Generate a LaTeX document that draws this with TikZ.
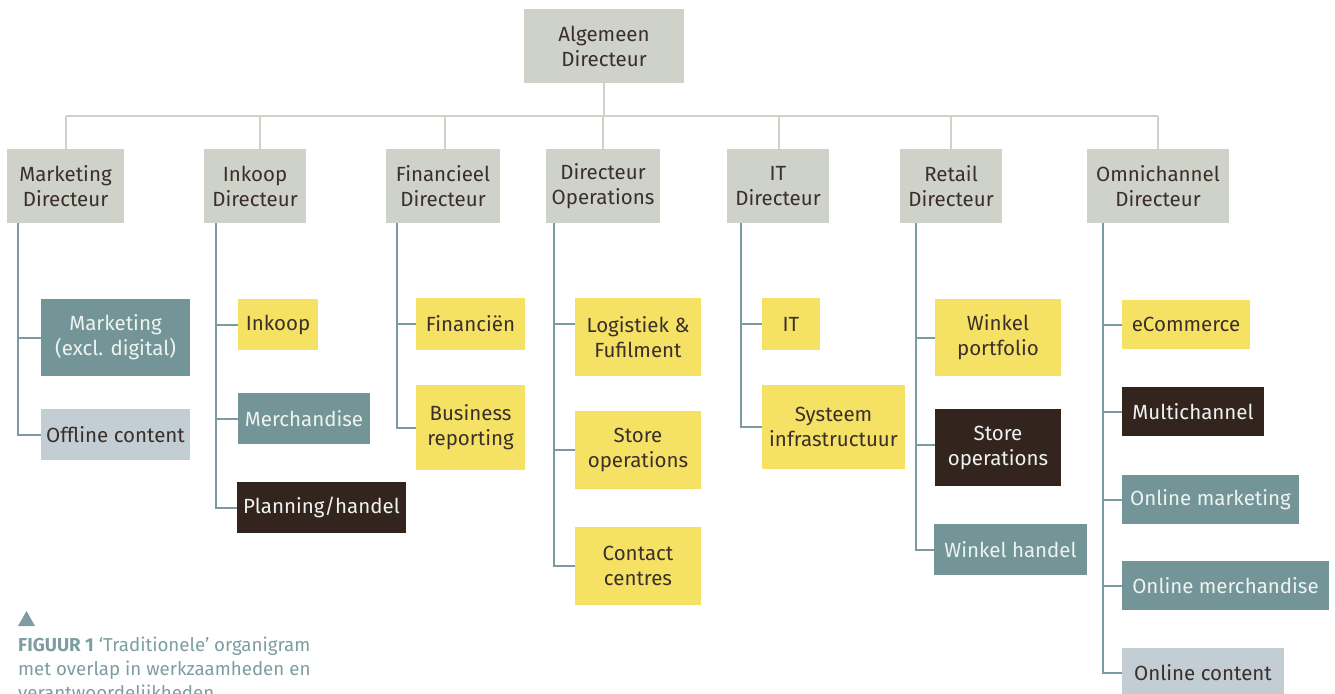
\documentclass[tikz,border=0pt]{standalone}
\usepackage{fontspec}
\setmainfont{Fira Sans}
\definecolor{dirgray}{HTML}{CED2C9}
\definecolor{branchc}{HTML}{7B9BA0}
\definecolor{tealbox}{HTML}{739598}
\definecolor{paleblue}{HTML}{C3CDD4}
\definecolor{yellowbox}{HTML}{F5E265}
\definecolor{darkbox}{HTML}{33251D}
\definecolor{inkdark}{HTML}{3A2F2A}
\definecolor{inklight}{HTML}{EEF2F1}
\definecolor{captionc}{HTML}{7D9DA2}
\begin{document}
\begin{tikzpicture}[x=1pt,y=-1pt,
  orgbox/.style={inner sep=0pt, align=center, font=\fontsize{20.5}{25}\selectfont},
  dirbox/.style={orgbox, fill=dirgray, text=inkdark},
  ybox/.style={orgbox, fill=yellowbox, text=inkdark},
  tbox/.style={orgbox, fill=tealbox, text=inklight},
  pbox/.style={orgbox, fill=paleblue, text=inkdark},
  dbox/.style={orgbox, fill=darkbox, text=inklight},
  topline/.style={draw=dirgray, line width=2pt},
  branch/.style={draw=branchc, line width=2pt},
  sz/.style 2 args={minimum width=#1pt, minimum height=#2pt}]
\useasboundingbox (0,0) rectangle (1335,693);
\clip (0,0) rectangle (1335,693);

% top level
\node[dirbox, sz={160}{74}] (ad) at (604,46) {Algemeen\\Directeur};

% directors
\node[dirbox, sz={117}{74}] (md)  at (65.5,186) {Marketing\\Directeur};
\node[dirbox, sz={102}{74}] (id)  at (255,186)  {Inkoop\\Directeur};
\node[dirbox, sz={114}{74}] (fd)  at (443,186)  {Financieel\\Directeur};
\node[dirbox, sz={114}{74}] (od)  at (603,186)  {Directeur\\Operations};
\node[dirbox, sz={102}{74}] (itd) at (778,186)  {IT\\Directeur};
\node[dirbox, sz={102}{74}] (rd)  at (951,186)  {Retail\\Directeur};
\node[dirbox, sz={142}{74}] (omd) at (1158,186) {Omnichannel\\Directeur};

% bus between top and directors
\coordinate (bus) at (0,116);
\coordinate (busL) at (66,116);
\coordinate (busR) at (1158,116);
\draw[topline] (ad.south) -- (ad.south |- bus);
\draw[topline] (busL) -- (busR);
\draw[topline] ([xshift=0.5pt]md.north) -- ([xshift=0.5pt]md.north |- bus);
\draw[topline] ([xshift=5pt]id.north) -- ([xshift=5pt]id.north |- bus);
\draw[topline] ([xshift=2pt]fd.north) -- ([xshift=2pt]fd.north |- bus);
\draw[topline] (od.north) -- (od.north |- bus);
\draw[topline] ([xshift=1pt]itd.north) -- ([xshift=1pt]itd.north |- bus);
\draw[topline] (rd.north) -- (rd.north |- bus);
\draw[topline] (omd.north) -- (omd.north |- bus);

% marketing
\node[tbox, sz={149}{77}] (mkt) at (115.5,337.5) {Marketing\\(excl. digital)};
\node[pbox, sz={149}{51}] (off) at (115.5,434.5) {Offline content};
% inkoop
\node[ybox, sz={80}{51}]  (ink) at (278,324.5)   {Inkoop};
\node[tbox, sz={132}{51}] (mer) at (304,418.5)   {Merchandise};
\node[dbox, sz={169}{51}] (pla) at (321.5,507.5) {Planning/handel};
% financieel
\node[ybox, sz={109}{52}] (fin) at (470.5,324)   {Financiën};
\node[ybox, sz={109}{85}] (bus2) at (470.5,427.5) {Business\\reporting};
% operations
\node[ybox, sz={126}{78}] (log) at (638,337) {Logistiek \&\\Fufilment};
\node[ybox, sz={126}{78}] (sto) at (638,450) {Store\\operations};
\node[ybox, sz={126}{78}] (con) at (638,566) {Contact\\centres};
% IT
\node[ybox, sz={58}{52}]  (it)  at (791,324)   {IT};
\node[ybox, sz={143}{84}] (sys) at (833.5,427) {Systeem\\infrastructuur};
% retail
\node[ybox, sz={126}{77}] (wp)  at (998,337.5)  {Winkel\\portfolio};
\node[dbox, sz={126}{77}] (so2) at (998,447.5)  {Store\\operations};
\node[tbox, sz={153}{51}] (wh)  at (1010.5,549.5) {Winkel handel};
% omnichannel
\node[ybox, sz={128}{49}] (eco)  at (1186,324.5)   {eCommerce};
\node[dbox, sz={142}{49}] (mul)  at (1193,411.5)   {Multichannel};
\node[tbox, sz={177}{49}] (onm)  at (1210.5,499.5) {Online marketing};
\node[tbox, sz={207}{49}] (onme) at (1225.5,585.5) {Online merchandise};
\node[pbox, sz={162}{49}] (onc)  at (1203,672.5)   {Online content};

% spines below each director
\coordinate (sm)  at (18,223);
\coordinate (si)  at (216,223);
\coordinate (sf)  at (397,223);
\coordinate (so)  at (554,223);
\coordinate (sit) at (741,223);
\coordinate (sr)  at (916,223);
\coordinate (som) at (1103,223);

\draw[branch] (sm) |- (mkt.west);
\draw[branch] (sm) |- (off.west);
\draw[branch] (si) |- (ink.west);
\draw[branch] (si) |- (mer.west);
\draw[branch] (si) |- (pla.west);
\draw[branch] (sf) |- (fin.west);
\draw[branch] (sf) |- (bus2.west);
\draw[branch] (so) |- ([yshift=13pt]log.west);
\draw[branch] (so) |- (sto.west);
\draw[branch] (so) |- (con.west);
\draw[branch] (sit) |- (it.west);
\draw[branch] (sit) |- (sys.west);
\draw[branch] (sr) |- (wp.west);
\draw[branch] (sr) |- ([yshift=3pt]so2.west);
\draw[branch] (sr) |- (wh.west);
\draw[branch] (som) |- (eco.west);
\draw[branch] (som) |- (mul.west);
\draw[branch] (som) |- (onm.west);
\draw[branch] (som) |- (onme.west);
\draw[branch] (som) |- (onc.west);

% caption
\fill[captionc] (18,626) -- (35,626) -- (26.5,611) -- cycle;
\node[anchor=north west, inner sep=0pt, align=left, text=captionc,
      font=\fontsize{18.7}{24}\selectfont] (cap) at (18,637)
  {\textbf{FIGUUR 1} ‘Traditionele’ organigram\\met overlap in werkzaamheden en\\verantwoordelijkheden};
\end{tikzpicture}
\end{document}
